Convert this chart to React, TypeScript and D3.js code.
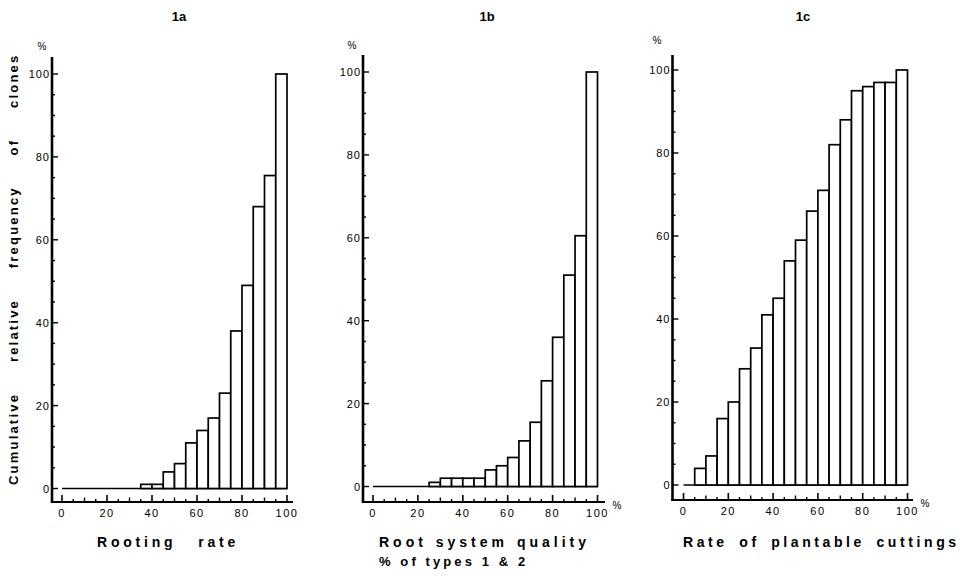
import React from 'react';
import * as d3 from 'd3';

// bin starts (% classes of 5)
const bins = [0, 5, 10, 15, 20, 25, 30, 35, 40, 45, 50, 55, 60, 65, 70, 75, 80, 85, 90, 95];
const rootingRate = [0, 0, 0, 0, 0, 0, 0, 1, 1, 4, 6, 11, 14, 17, 23, 38, 49, 68, 75.5, 100];
const rootQuality = [0, 0, 0, 0, 0, 1, 2, 2, 2, 2, 4, 5, 7, 11, 15.5, 25.5, 36, 51, 60.5, 100];
const plantable = [0, 4, 7, 16, 20, 28, 33, 41, 45, 54, 59, 66, 71, 82, 88, 95, 96, 97, 97, 100];
const yTickLabels = [0, 20, 40, 60, 80, 100];
const xTickLabels = [0, 20, 40, 60, 80, 100];

const FONT = '"Liberation Sans", Arial, sans-serif';

type PanelProps = {
  title: string;
  values: number[];
  axisX: number;
  x0: number;
  x100: number;
  y0: number;
  y100: number;
  xAxisY: number;
  axisTop: number;
  axisRight: number;
  titleX: number;
  pctX: number;
  pctY: number;
  xPct: boolean;
  labels: { text: string; x: number; y: number; fs: number; ls: number; ws: number }[];
};

const Panel = (p: PanelProps) => {
  const x = d3.scaleLinear().domain([0, 100]).range([p.x0, p.x100]);
  const y = d3.scaleLinear().domain([0, 100]).range([p.y0, p.y100]);
  const yTicks = d3.range(0, 101, 5);
  const xTicks = d3.range(0, 101, 5);

  return (
    <g>
      <text x={p.titleX} y={21} fontFamily={FONT} fontWeight="bold" fontSize={13} textAnchor="middle">{p.title}</text>
      <text x={p.pctX} y={p.pctY} fontFamily={FONT} fontSize={10} textAnchor="middle">%</text>

      {/* baseline at 0 */}
      <line x1={x(0)} x2={x(100)} y1={y(0)} y2={y(0)} stroke="#000" strokeWidth={1.6} />

      {/* bars */}
      {bins.map((b, i) =>
        p.values[i] > 0 ? (
          <rect key={b} x={x(b)} y={y(p.values[i])} width={x(b + 5) - x(b)} height={y(0) - y(p.values[i])}
            fill="#fff" stroke="#000" strokeWidth={1.7} />
        ) : null
      )}

      {/* y axis */}
      <line x1={p.axisX} x2={p.axisX} y1={p.axisTop} y2={p.xAxisY + 1} stroke="#000" strokeWidth={2.6} />
      {yTicks.map(t => (
        <line key={t} x1={p.axisX} x2={p.axisX + (t % 20 === 0 ? 6 : 3)} y1={y(t)} y2={y(t)} stroke="#000" strokeWidth={1.4} />
      ))}
      {yTickLabels.map(t => (
        <text key={t} x={p.axisX - 2} y={y(t) + 4} fontFamily={FONT} fontSize={11} textAnchor="end" letterSpacing={1}>{t}</text>
      ))}

      {/* x axis */}
      <line x1={p.axisX - 1} x2={p.axisRight} y1={p.xAxisY} y2={p.xAxisY} stroke="#000" strokeWidth={2.2} />
      {xTicks.map(t => (
        <line key={t} x1={x(t)} x2={x(t)} y1={p.xAxisY} y2={p.xAxisY - (t % 20 === 0 ? 7 : t % 10 === 0 ? 4.5 : 3)}
          stroke="#000" strokeWidth={t % 20 === 0 ? 1.6 : 1.4} />
      ))}
      {xTickLabels.map(t => (
        <text key={t} x={x(t)} y={p.xAxisY + 15} fontFamily={FONT} fontSize={11} textAnchor="middle" letterSpacing={1.5}>{t}</text>
      ))}
      {p.xPct && (
        <text x={p.axisRight + 12} y={p.xAxisY + 7} fontFamily={FONT} fontSize={10} textAnchor="middle">%</text>
      )}

      {p.labels.map(l => (
        <text key={l.text} x={l.x} y={l.y} fontFamily={FONT} fontWeight="bold" fontSize={l.fs}
          letterSpacing={l.ls} wordSpacing={l.ws}>{l.text}</text>
      ))}
    </g>
  );
};

export default function App() {
  return (
    <svg width={970} height={576} style={{ position: 'absolute', left: 0, top: 0, background: '#fff' }}>
      <rect width={970} height={576} fill="#fff" />
      <text transform="translate(18,485) rotate(-90)" fontFamily={FONT} fontWeight="bold" fontSize={13}
        letterSpacing={2.2} wordSpacing={25}>Cumulative relative frequency of clones</text>

      <Panel title="1a" values={rootingRate} axisX={52} x0={62} x100={287} y0={488.5} y100={74}
        xAxisY={502} axisTop={57} axisRight={293} titleX={179} pctX={42} pctY={50} xPct={false}
        labels={[{ text: 'Rooting rate', x: 97, y: 547, fs: 14, ls: 3.8, ws: 14 }]} />
      <Panel title="1b" values={rootQuality} axisX={363} x0={373} x100={597.5} y0={486.5} y100={72}
        xAxisY={502} axisTop={55} axisRight={605} titleX={487} pctX={352} pctY={49} xPct={true}
        labels={[
          { text: 'Root system quality', x: 379, y: 547, fs: 14, ls: 4, ws: 1 },
          { text: '% of types 1 & 2', x: 379, y: 566, fs: 13, ls: 3.1, ws: 0 },
        ]} />
      <Panel title="1c" values={plantable} axisX={672.5} x0={683.5} x100={907.5} y0={485} y100={70}
        xAxisY={500} axisTop={55} axisRight={913} titleX={803} pctX={657} pctY={44} xPct={true}
        labels={[{ text: 'Rate of plantable cuttings', x: 683, y: 547, fs: 14, ls: 3.6, ws: 4 }]} />
    </svg>
  );
}
